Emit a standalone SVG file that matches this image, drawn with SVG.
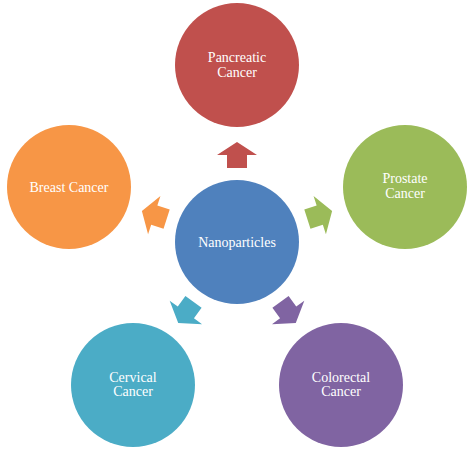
<svg xmlns="http://www.w3.org/2000/svg" width="474" height="450" viewBox="0 0 474 450">
<style>
.t{font-size:14px;fill:#ffffff;text-anchor:middle}
</style>
<defs>
<path id="arr" d="M-10,-74 L10,-74 L10,-87 L20,-87 L0,-100 L-20,-87 L-10,-87 Z"/>
</defs>
<rect width="474" height="450" fill="#ffffff"/>
<g id="connectors">
<use href="#arr" transform="translate(237,242) rotate(0)" fill="#C0504D"/>
<use href="#arr" transform="translate(237,242) rotate(72)" fill="#9BBB59"/>
<use href="#arr" transform="translate(237,242) rotate(144)" fill="#8064A2"/>
<use href="#arr" transform="translate(237,242) rotate(216)" fill="#4BACC6"/>
<use href="#arr" transform="translate(237,242) rotate(288)" fill="#F79646"/>
</g>
<g font-family="Liberation Serif, Times New Roman, serif">
<g id="nanoparticles">
<circle cx="237" cy="242" r="62" fill="#4F81BD"/>
<text class="t" x="237" y="246.5">Nanoparticles</text>
</g>
<g id="pancreatic">
<circle cx="237" cy="65" r="62" fill="#C0504D"/>
<text class="t" x="237" y="62">Pancreatic</text>
<text class="t" x="237" y="77">Cancer</text>
</g>
<g id="prostate">
<circle cx="405" cy="187" r="62" fill="#9BBB59"/>
<text class="t" x="405" y="183">Prostate</text>
<text class="t" x="405" y="197.5">Cancer</text>
</g>
<g id="colorectal">
<circle cx="341" cy="385" r="62" fill="#8064A2"/>
<text class="t" x="341" y="381.5">Colorectal</text>
<text class="t" x="341" y="396">Cancer</text>
</g>
<g id="cervical">
<circle cx="133" cy="385" r="62" fill="#4BACC6"/>
<text class="t" x="133" y="381.5">Cervical</text>
<text class="t" x="133" y="396">Cancer</text>
</g>
<g id="breast">
<circle cx="69" cy="187" r="62" fill="#F79646"/>
<text class="t" x="69" y="192">Breast Cancer</text>
</g>
</g>
</svg>
